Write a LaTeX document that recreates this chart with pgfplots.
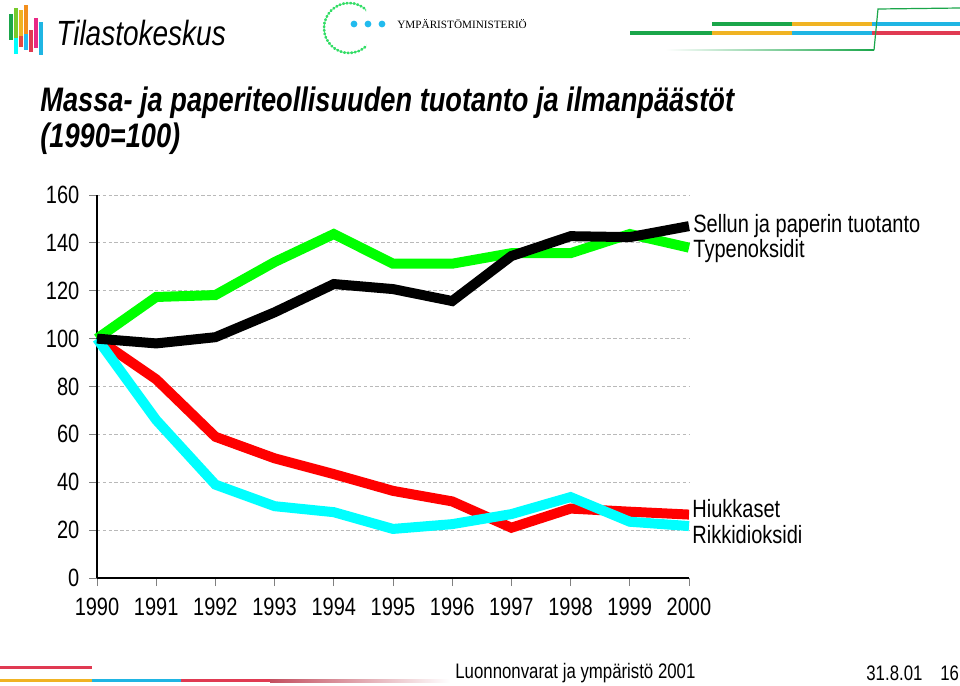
\documentclass[border=0pt]{standalone}
\usepackage{fontspec}
\setmainfont{Liberation Sans}[FakeStretch=0.8]
\newfontfamily\serifsmall{Liberation Serif}
\usepackage{pgfplots}
\pgfplotsset{compat=1.18}
\definecolor{lgreen}{HTML}{1AA64A}
\definecolor{lorange}{HTML}{F0B323}
\definecolor{lblue}{HTML}{1FB5E3}
\definecolor{lred}{HTML}{E03A52}
\definecolor{dotgreen}{HTML}{33DD66}
\definecolor{dotcyan}{HTML}{22BBEE}
\definecolor{scyan}{RGB}{0,255,255}
\definecolor{sgreen}{RGB}{0,255,0}
\definecolor{sred}{RGB}{255,0,0}
\begin{document}
\begin{tikzpicture}
\begin{scope}[x=0.5pt,y=-0.5pt]
\path[use as bounding box] (0,0) rectangle (960,686);
% Tilastokeskus logo bars
\fill[lgreen] (9,14) rectangle (13,40);
\fill[lgreen!60!yellow] (14,8) rectangle (18,38);
\fill[lorange] (19,10) rectangle (23,36);
\fill[lorange!80!red] (24,5) rectangle (28,34);
\fill[lred] (29,30) rectangle (33,52);
\fill[lred!70!magenta] (34,18) rectangle (38,48);
\fill[lblue] (39,22) rectangle (43,55);
\fill[scyan] (14,38) rectangle (18,54);
\fill[dotcyan] (24,34) rectangle (28,50);
\fill[lred!80!orange] (19,36) rectangle (23,47);
\node[anchor=west, inner sep=0pt] at (56,33) {\fontsize{17.5pt}{20pt}\selectfont\itshape Tilastokeskus};
% Ymparistoministerio logo
\begin{scope}
\clip (310,0) rectangle (366,60);
\draw[dotgreen, line width=1.3pt, dash pattern=on 0.5pt off 1.3pt, line cap=round] (349,28) circle[radius=25];
\end{scope}
\fill[dotcyan] (354,24) circle (3.4);
\fill[dotcyan] (368,24) circle (3.4);
\fill[dotcyan] (382,24) circle (3.4);
\node[anchor=west, inner sep=0pt] at (397,24) {\serifsmall\fontsize{5.6pt}{6pt}\selectfont YMPÄRISTÖMINISTERIÖ};
% top-right decoration
\fill[lgreen] (712,22) rectangle (792,26);
\fill[lorange] (792,22) rectangle (872,26);
\fill[lblue] (872,22) rectangle (960,26);
\fill[lgreen] (630,31) rectangle (712,35);
\fill[lorange] (712,31) rectangle (792,35);
\fill[lblue] (792,31) rectangle (872,35);
\fill[lred] (872,31) rectangle (960,35);
\shade[left color=white, right color=lgreen] (665,49) rectangle (874,50.5);
\draw[lgreen, line width=0.6pt] (874,50) -- (878,9) -- (960,8);
% footer decoration
\fill[lred] (0,666) rectangle (92,669);
\fill[lorange] (0,679) rectangle (92,682);
\fill[lblue] (92,679) rectangle (181,682);
\fill[lred] (181,679) rectangle (270,682);
\shade[left color=lred!70!gray, right color=white] (270,679) rectangle (450,682);
% titles
\node[anchor=base west, inner sep=0pt] at (40,111) {\fontsize{17pt}{20pt}\selectfont\bfseries\itshape Massa- ja paperiteollisuuden tuotanto ja ilmanpäästöt};
\node[anchor=base west, inner sep=0pt] at (40,147) {\fontsize{17pt}{20pt}\selectfont\bfseries\itshape (1990=100)};
% series labels
\node[anchor=west, inner sep=0pt] at (693,226) {\fontsize{12.5pt}{14pt}\selectfont Sellun ja paperin tuotanto};
\node[anchor=west, inner sep=0pt] at (693,251) {\fontsize{12.5pt}{14pt}\selectfont Typenoksidit};
\node[anchor=west, inner sep=0pt] at (692,509) {\fontsize{12.5pt}{14pt}\selectfont Hiukkaset};
\node[anchor=west, inner sep=0pt] at (692,535) {\fontsize{12.5pt}{14pt}\selectfont Rikkidioksidi};
% footer text
\node[anchor=west, inner sep=0pt] at (455,673) {\fontsize{10.5pt}{12pt}\selectfont Luonnonvarat ja ympäristö 2001};
\node[anchor=west, inner sep=0pt] at (866,673) {\fontsize{10.5pt}{12pt}\selectfont 31.8.01};
\node[anchor=west, inner sep=0pt] at (940,673) {\fontsize{10.5pt}{12pt}\selectfont 16};
\end{scope}
\begin{axis}[
  scale only axis, width=296pt, height=191.5pt,
  at={(48.5pt,-289pt)}, anchor=south west,
  xmin=1990, xmax=2000, ymin=0, ymax=160,
  axis x line*=bottom, axis y line*=left,
  axis line style={black, line width=0.8pt, -},
  xtick={1990,...,2000}, ytick={0,20,...,160},
  ymajorgrids, grid style={gray!55, line width=0.4pt, dash pattern=on 1.7pt off 1.2pt},
  tick style={gray, line width=0.4pt},
  tick align=outside, major tick length=4pt,
  /pgf/number format/assume math mode=true,
  /pgf/number format/1000 sep={},
  tick label style={font=\fontsize{12.5pt}{14pt}\selectfont},
  xticklabel style={yshift=-2.5pt},
  yticklabel style={xshift=-1.3pt},
  clip=false,
]
\addplot[sred, line width=5pt] coordinates {
(1990,100) (1991,83) (1992,59) (1993,50) (1994,43.4) (1995,36.4) (1996,32) (1997,21) (1998,29) (1999,27.7) (2000,26.5)};
\addplot[scyan, line width=5pt] coordinates {
(1990,100) (1991,66) (1992,39) (1993,30) (1994,27.5) (1995,20.5) (1996,22.5) (1997,26.7) (1998,33.8) (1999,23.5) (2000,21.7)};
\addplot[sgreen, line width=5pt] coordinates {
(1990,100) (1991,117.4) (1992,118.2) (1993,132) (1994,143.7) (1995,131.3) (1996,131.3) (1997,135.7) (1998,135.7) (1999,143.7) (2000,138)};
\addplot[black, line width=5pt] coordinates {
(1990,100) (1991,98) (1992,100.6) (1993,111) (1994,122.8) (1995,120.7) (1996,115.7) (1997,134.5) (1998,142.8) (1999,142.4) (2000,147)};
\end{axis}
\end{tikzpicture}
\end{document}
